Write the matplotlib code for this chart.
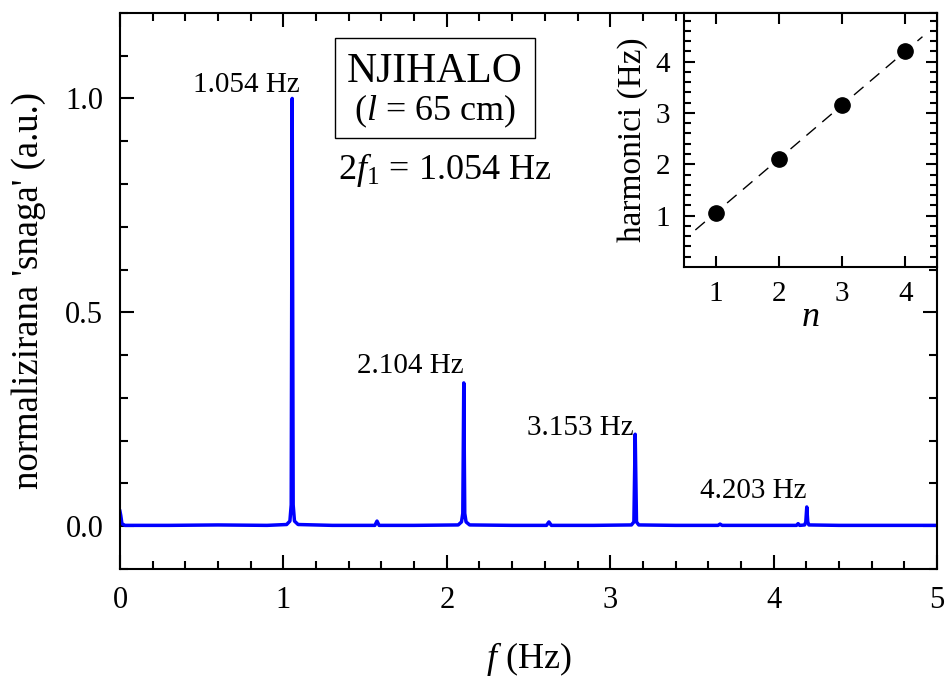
import matplotlib
matplotlib.use('Agg')
import matplotlib.pyplot as plt
from matplotlib.patches import Rectangle
import numpy as np

plt.rcParams['font.family'] = ['Liberation Serif', 'DejaVu Serif']
plt.rcParams['mathtext.fontset'] = 'custom'
plt.rcParams['mathtext.rm'] = 'Liberation Serif'
plt.rcParams['mathtext.it'] = 'Liberation Serif:italic'

# spectrum
FREQ = [0.0, 0.005, 0.012, 0.03, 0.3, 0.6, 0.9, 1.02, 1.04, 1.048, 1.054, 1.060, 1.068,
        1.09, 1.3, 1.56, 1.573, 1.586, 1.8, 2.07, 2.09, 2.098, 2.104, 2.110, 2.118,
        2.14, 2.4, 2.61, 2.625, 2.64, 2.9, 3.13, 3.145, 3.153, 3.161, 3.175, 3.4,
        3.66, 3.672, 3.685, 4.0, 4.14, 4.15, 4.16, 4.19, 4.197, 4.203, 4.209, 4.216,
        4.4, 4.7, 5.0]
POWER = [0.035, 0.025, 0.006, 0.002, 0.002, 0.003, 0.002, 0.004, 0.012, 0.05, 1.0, 0.05, 0.012,
         0.004, 0.002, 0.002, 0.012, 0.002, 0.002, 0.003, 0.01, 0.03, 0.335, 0.03, 0.01,
         0.003, 0.002, 0.002, 0.010, 0.002, 0.002, 0.003, 0.01, 0.215, 0.01, 0.003, 0.002,
         0.002, 0.005, 0.002, 0.002, 0.002, 0.006, 0.002, 0.003, 0.01, 0.045, 0.01, 0.003,
         0.002, 0.002, 0.002]

PEAK_F = [1.054, 2.104, 3.153, 4.203]
PEAK_LABELS = ['1.054 Hz', '2.104 Hz', '3.153 Hz', '4.203 Hz']
LABEL_POS = [(0.775, 1.0), (1.775, 0.343), (2.815, 0.199), (3.875, 0.051)]

N_HARM = [1, 2, 3, 4]

fig = plt.figure(figsize=(9.46, 6.79), dpi=100)
ax = fig.add_axes([0.1268, 0.162, 0.8637, 0.819])

ax.plot(FREQ, POWER, c='#0000FF', lw=2.5)

for lab, (x, y) in zip(PEAK_LABELS, LABEL_POS):
    ax.text(x, y, lab, ha='center', va='bottom', fontsize=21)

# title box
ax.add_patch(Rectangle((335 / 946, 1 - 138 / 679), 200 / 946, 100 / 679,
                       transform=fig.transFigure, fill=False, ec='black', lw=1.0))
fig.text(435 / 946, 1 - 72 / 679, 'NJIHALO', ha='center', va='center', fontsize=30)
fig.text(435 / 946, 1 - 111 / 679, r'($l$ = 65 cm)', ha='center', va='center', fontsize=26)
fig.text(445 / 946, 1 - 170 / 679, r'$2f_1$ = 1.054 Hz', ha='center', va='center', fontsize=26)

ax.set_xlim(0, 5)
ax.set_ylim(-0.1, 1.2)
ax.set_xticks([0, 1, 2, 3, 4, 5])
ax.set_xticks(np.arange(0, 5.01, 0.2), minor=True)
ax.set_yticks([0.0, 0.5, 1.0])
ax.set_yticklabels(['0.0', '0.5', '1.0'])
ax.set_yticks(np.arange(-0.1, 1.21, 0.1), minor=True)
ax.tick_params(which='both', direction='in', top=True, right=True, labelsize=22,
               width=1.5, pad=12)
ax.tick_params(which='major', length=10)
ax.tick_params(which='minor', length=6)
for s in ax.spines.values():
    s.set_linewidth(1.5)
ax.set_xlabel(r'$f$ (Hz)', fontsize=26, labelpad=18)
ax.set_ylabel("normalizirana 'snaga' (a.u.)", fontsize=26.5, labelpad=14)

# inset
ins = fig.add_axes([0.723, 0.607, 0.2675, 0.374])
ins.plot(N_HARM, PEAK_F, 'o', c='black', ms=11)
k, b = np.polyfit(N_HARM, PEAK_F, 1)
xf = np.array([0.68, 4.27])
ins.plot(xf, k * xf + b, c='black', lw=1.0, dashes=(9, 6))
ins.set_xlim(0.5, 4.5)
ins.set_ylim(0, 4.95)
ins.set_xticks(N_HARM)
ins.set_yticks([1, 2, 3, 4])
ins.set_yticks(np.arange(0.2, 4.95, 0.2), minor=True)
ins.tick_params(which='both', direction='in', top=True, right=True, labelsize=21,
                width=1.5, pad=10)
ins.tick_params(which='major', length=8)
ins.tick_params(which='minor', length=5)
for s in ins.spines.values():
    s.set_linewidth(1.5)
ins.set_xlabel(r'$n$', fontsize=26, labelpad=-4)
ins.set_ylabel('harmonici (Hz)', fontsize=24, labelpad=5)

fig.savefig('out.png', dpi=100)
